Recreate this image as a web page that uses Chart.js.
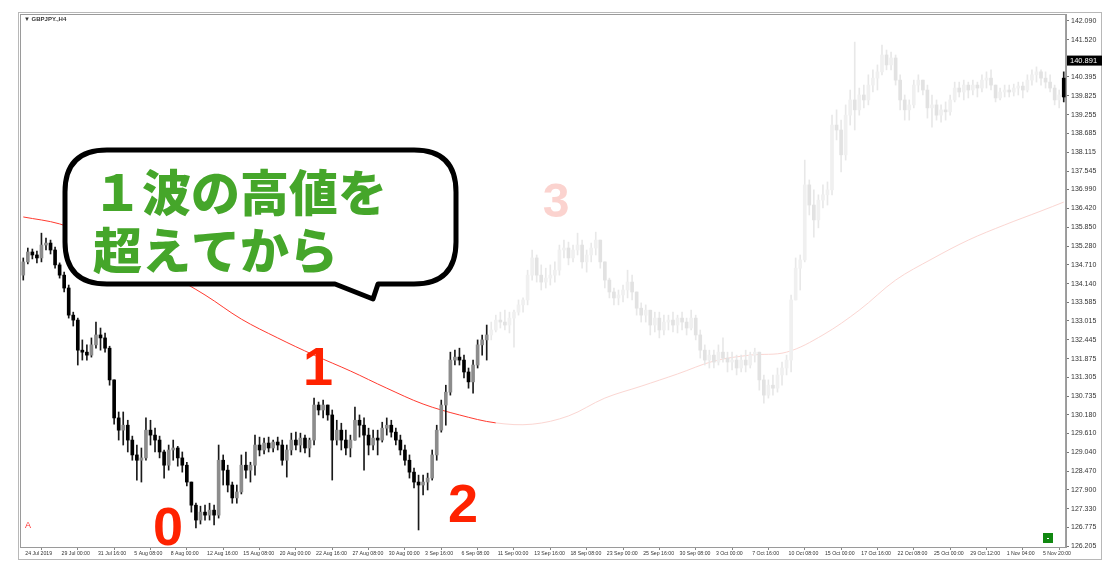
<!DOCTYPE html>
<html>
<head>
<meta charset="utf-8">
<script src="https://cdn.jsdelivr.net/npm/chart.js@4.4.1/dist/chart.umd.min.js"></script>
<style>
    html, body { margin: 0; padding: 0; background: #fff; overflow: hidden; }
    #wrap { position: relative; width: 1111px; height: 577px; }
</style>
</head>
<body>
<div id="wrap"><canvas id="chart" width="1111" height="577"></canvas></div>
<script>
// GBPJPY H4 (one bar here = 8 hours)

const xTickLabels = ['24 Jul 2019', '29 Jul 00:00', '31 Jul 16:00', '5 Aug 08:00', '8 Aug 00:00', '12 Aug 16:00',
    '15 Aug 08:00', '20 Aug 00:00', '22 Aug 16:00', '27 Aug 08:00', '30 Aug 00:00', '3 Sep 16:00', '6 Sep 08:00',
    '11 Sep 00:00', '13 Sep 16:00', '18 Sep 08:00', '23 Sep 00:00', '25 Sep 16:00', '30 Sep 08:00', '3 Oct 00:00',
    '7 Oct 16:00', '10 Oct 08:00', '15 Oct 00:00', '17 Oct 16:00', '22 Oct 08:00', '25 Oct 00:00', '29 Oct 12:00',
    '1 Nov 04:00', '5 Nov 20:00'];

const yTickValues = [142.090, 141.520, 140.395, 139.825, 139.255, 138.685, 138.115, 137.545, 136.990, 136.420,
    135.850, 135.280, 134.710, 134.140, 133.585, 133.015, 132.445, 131.875, 131.305, 130.735, 130.180, 129.610,
    129.040, 128.470, 127.900, 127.330, 126.775, 126.205];

const opens = [
    134.40, 134.80, 135.10, 135.01, 134.92, 135.31, 135.37, 135.16, 134.71, 134.40,
    134.01, 133.19, 133.04, 132.13, 132.07, 131.98, 132.29, 132.59, 132.50, 132.19,
    131.23, 130.08, 129.71, 129.86, 129.41, 128.96, 128.80, 128.87, 129.71, 129.56,
    129.41, 129.05, 128.65, 129.11, 129.17, 128.87, 128.65, 128.14, 127.44, 126.99,
    127.23, 127.14, 127.29, 127.14, 128.80, 128.50, 128.05, 127.66, 127.84, 128.65,
    128.50, 128.65, 129.26, 129.11, 129.32, 129.17, 129.35, 129.26, 128.80, 129.11,
    129.41, 129.26, 129.47, 129.17, 129.41, 130.47, 130.32, 130.47, 130.17, 129.41,
    129.71, 129.41, 129.17, 129.41, 130.01, 129.86, 129.56, 129.26, 129.47, 129.41,
    129.77, 129.86, 129.65, 129.41, 129.11, 128.80, 128.44, 128.14, 128.05, 128.14,
    128.26, 128.96, 129.71, 130.47, 130.86, 131.83, 131.92, 131.83, 131.47, 131.17,
    131.68, 132.29, 132.44, 132.59, 132.74, 133.04, 132.98, 132.89, 133.10, 133.28,
    133.50, 133.65, 134.40, 134.92, 134.40, 134.19, 134.31, 134.40, 134.55, 135.16,
    135.22, 134.92, 135.16, 135.31, 134.80, 135.01, 135.22, 135.46, 134.80, 134.25,
    133.89, 133.71, 133.80, 133.95, 134.19, 133.89, 133.40, 133.19, 133.34, 132.89,
    133.10, 132.74, 132.98, 133.04, 132.89, 133.10, 132.98, 132.80, 133.10, 132.59,
    132.13, 131.83, 131.98, 131.77, 132.07, 131.89, 131.77, 131.83, 131.59, 131.83,
    131.68, 131.98, 132.07, 131.23, 130.77, 131.07, 130.98, 131.38, 131.59, 131.83,
    133.65, 134.61, 134.86, 137.13, 136.52, 136.07, 136.67, 136.83, 136.98, 138.94,
    138.79, 138.04, 139.24, 139.70, 139.40, 139.85, 139.70, 140.15, 140.36, 140.55,
    141.06, 140.76, 140.97, 140.30, 139.70, 139.40, 139.55, 140.15, 140.30, 140.00,
    139.46, 139.55, 139.24, 139.40, 139.34, 139.70, 140.06, 139.94, 140.15, 140.00,
    140.15, 140.06, 140.30, 140.36, 140.15, 139.76, 139.94, 140.00, 139.94, 140.06,
    140.12, 140.00, 140.30, 140.46, 140.55, 140.36, 140.24, 140.06, 139.70, 140.36
];
const highs = [
    134.92, 135.22, 135.19, 135.13, 135.67, 135.52, 135.46, 135.25, 134.77, 134.49,
    134.10, 133.28, 133.10, 132.44, 132.29, 132.50, 132.98, 132.80, 132.65, 132.25,
    131.23, 130.26, 130.26, 130.01, 129.53, 129.26, 129.17, 130.08, 130.01, 129.77,
    129.53, 129.11, 129.26, 129.41, 129.22, 129.05, 128.74, 128.14, 127.50, 127.41,
    127.44, 127.50, 127.44, 129.26, 128.96, 128.65, 128.14, 128.05, 128.96, 129.05,
    128.74, 129.56, 129.50, 129.47, 129.50, 129.41, 129.50, 129.41, 129.26, 129.62,
    129.65, 129.62, 129.56, 129.47, 130.68, 130.56, 130.62, 130.47, 130.32, 130.01,
    129.92, 129.71, 129.56, 130.41, 130.17, 130.08, 129.77, 129.71, 129.71, 129.95,
    130.08, 130.01, 129.77, 129.56, 129.26, 128.96, 128.56, 128.35, 128.35, 128.41,
    129.11, 129.86, 130.62, 131.07, 132.07, 132.13, 132.19, 131.98, 131.59, 131.83,
    132.44, 132.59, 132.89, 132.98, 133.19, 133.28, 133.34, 133.28, 133.34, 133.65,
    133.71, 134.55, 135.16, 135.01, 134.71, 134.61, 134.71, 134.80, 135.31, 135.46,
    135.40, 135.31, 135.67, 135.46, 135.16, 135.37, 135.70, 135.46, 134.80, 134.31,
    134.01, 133.95, 134.10, 134.55, 134.40, 133.89, 133.56, 133.50, 133.34, 133.28,
    133.28, 133.19, 133.19, 133.28, 133.19, 133.28, 133.10, 133.34, 133.19, 132.74,
    132.29, 132.13, 132.13, 132.29, 132.50, 132.07, 132.07, 131.98, 131.98, 132.13,
    132.07, 132.19, 132.07, 131.38, 131.23, 131.38, 131.59, 131.77, 131.98, 133.80,
    134.92, 135.01, 137.88, 137.28, 136.98, 136.83, 137.13, 137.22, 139.24, 139.40,
    139.09, 139.55, 140.00, 141.45, 140.06, 140.15, 140.46, 140.61, 140.76, 141.36,
    141.21, 141.15, 141.06, 140.46, 139.85, 139.70, 140.30, 140.46, 140.30, 140.15,
    139.85, 139.70, 139.55, 139.64, 139.85, 140.24, 140.24, 140.30, 140.24, 140.30,
    140.24, 140.46, 140.55, 140.61, 140.15, 140.06, 140.15, 140.15, 140.18, 140.24,
    140.24, 140.46, 140.61, 140.70, 140.61, 140.55, 140.46, 140.15, 140.00, 140.55
];
const lows = [
    134.25, 134.74, 134.89, 134.77, 134.80, 135.16, 135.04, 134.61, 134.31, 133.89,
    133.10, 132.86, 131.68, 131.83, 131.83, 131.92, 132.19, 132.13, 132.07, 131.07,
    129.89, 129.41, 129.26, 129.05, 128.80, 128.20, 128.14, 128.80, 129.26, 129.05,
    128.87, 128.26, 128.50, 128.80, 128.62, 128.44, 128.02, 127.23, 126.75, 126.87,
    126.99, 126.99, 126.84, 127.05, 128.05, 127.84, 127.50, 127.50, 127.78, 128.26,
    128.14, 128.35, 128.93, 128.99, 129.05, 129.05, 129.11, 128.65, 128.29, 128.96,
    129.11, 129.05, 129.02, 128.90, 129.26, 130.17, 130.08, 130.01, 128.20, 129.26,
    129.11, 128.96, 128.90, 129.41, 129.50, 128.50, 128.96, 129.11, 128.96, 129.35,
    129.56, 129.50, 129.26, 128.96, 128.65, 128.26, 127.96, 126.69, 127.75, 127.90,
    128.20, 128.80, 129.65, 129.86, 130.77, 131.68, 131.68, 131.29, 130.98, 130.83,
    131.59, 131.98, 131.83, 132.44, 132.68, 132.80, 132.74, 132.65, 132.22, 133.19,
    133.28, 133.50, 134.25, 134.19, 133.95, 134.01, 134.10, 134.19, 134.40, 134.92,
    134.71, 134.80, 135.01, 134.61, 134.49, 134.80, 135.01, 134.61, 134.01, 133.71,
    133.50, 133.50, 133.59, 133.71, 133.65, 133.19, 132.98, 132.98, 132.59, 132.68,
    132.50, 132.59, 132.74, 132.68, 132.65, 132.74, 132.59, 132.74, 132.44, 131.89,
    131.68, 131.59, 131.59, 131.68, 131.77, 131.47, 131.53, 131.38, 131.47, 131.47,
    131.59, 131.77, 130.92, 130.53, 130.68, 130.77, 130.86, 131.07, 131.38, 131.47,
    133.65, 133.95, 134.80, 136.22, 135.55, 135.83, 136.43, 136.52, 136.83, 138.49,
    137.52, 137.88, 138.94, 138.79, 139.24, 139.46, 139.55, 139.94, 140.00, 140.46,
    140.61, 140.61, 140.15, 139.40, 139.09, 139.09, 139.46, 139.94, 139.85, 139.15,
    138.88, 139.09, 139.03, 139.09, 139.24, 139.64, 139.79, 139.70, 139.76, 139.85,
    139.79, 139.94, 140.06, 140.00, 139.64, 139.70, 139.79, 139.79, 139.82, 139.85,
    139.76, 139.94, 140.15, 140.24, 140.15, 140.06, 139.94, 139.55, 139.46, 139.64
];
const closes = [
    134.80, 135.10, 135.01, 134.92, 135.31, 135.37, 135.16, 134.71, 134.40, 134.01,
    133.19, 133.04, 132.13, 132.07, 131.98, 132.29, 132.59, 132.50, 132.19, 131.23,
    130.08, 129.71, 129.86, 129.41, 128.96, 128.80, 128.87, 129.71, 129.56, 129.41,
    129.05, 128.65, 129.11, 129.17, 128.87, 128.65, 128.14, 127.44, 126.99, 127.23,
    127.14, 127.29, 127.14, 128.80, 128.50, 128.05, 127.66, 127.84, 128.65, 128.50,
    128.65, 129.26, 129.11, 129.32, 129.17, 129.35, 129.26, 128.80, 129.11, 129.41,
    129.26, 129.47, 129.17, 129.41, 130.47, 130.32, 130.47, 130.17, 129.41, 129.71,
    129.41, 129.17, 129.41, 130.01, 129.86, 129.56, 129.26, 129.47, 129.41, 129.77,
    129.86, 129.65, 129.41, 129.11, 128.80, 128.44, 128.14, 128.05, 128.14, 128.26,
    128.96, 129.71, 130.47, 130.86, 131.83, 131.92, 131.83, 131.47, 131.17, 131.68,
    132.29, 132.44, 132.59, 132.74, 133.04, 132.98, 132.89, 133.10, 133.28, 133.50,
    133.65, 134.40, 134.92, 134.40, 134.19, 134.31, 134.40, 134.55, 135.16, 135.22,
    134.92, 135.16, 135.31, 134.80, 135.01, 135.22, 135.46, 134.80, 134.25, 133.89,
    133.71, 133.80, 133.95, 134.19, 133.89, 133.40, 133.19, 133.34, 132.89, 133.10,
    132.74, 132.98, 133.04, 132.89, 133.10, 132.98, 132.80, 133.10, 132.59, 132.13,
    131.83, 131.98, 131.77, 132.07, 131.89, 131.77, 131.83, 131.59, 131.83, 131.68,
    131.98, 132.07, 131.23, 130.77, 131.07, 130.98, 131.38, 131.59, 131.83, 133.65,
    134.61, 134.86, 137.13, 136.52, 136.07, 136.67, 136.83, 136.98, 138.94, 138.79,
    138.04, 139.24, 139.70, 139.40, 139.85, 139.70, 140.15, 140.36, 140.55, 141.06,
    140.76, 140.97, 140.30, 139.70, 139.40, 139.55, 140.15, 140.30, 140.00, 139.46,
    139.55, 139.24, 139.40, 139.34, 139.70, 140.06, 139.94, 140.15, 140.00, 140.15,
    140.06, 140.30, 140.36, 140.15, 139.76, 139.94, 140.00, 139.94, 140.06, 140.12,
    140.00, 140.30, 140.46, 140.55, 140.36, 140.24, 140.06, 139.70, 139.85, 139.79
];

// moving average, one reading per x-axis label (every 8 bars) plus the last bar
const maValues = [136.16, 135.95, 135.52, 134.98, 134.43, 133.80, 133.07, 132.50, 131.98, 131.50,
    130.98, 130.50, 130.17, 129.93, 129.89, 130.14, 130.68, 131.04, 131.41, 131.80,
    131.98, 132.07, 132.59, 133.34, 134.25, 134.89, 135.46, 135.92, 136.34, 136.61];

const currentPrice = 140.891;
const lastSolidBar = 102;   // bars after this are drawn faded, except the last one

const labels = opens.map((_, i) => i % 8 === 0 ? xTickLabels[i / 8] : '');
const maData = opens.map(() => null);
maValues.forEach((v, k) => { maData[Math.min(k * 8, opens.length - 1)] = v; });

const isSolid = i => i <= lastSolidBar || i === opens.length - 1;
const wickColors = opens.map((_, i) => isSolid(i) ? '#1a1a1a' : '#e8e8e8');
const bodyColors = opens.map((o, i) => {
    const up = closes[i] >= o;
    if (isSolid(i)) return up ? '#8c8c8c' : '#000000';
    return up ? '#f0f0f0' : '#e2e2e2';
});

// Annotations: frame, bubble, wave numbers, price box
const overlayPlugin = {
    id: 'overlay',
    beforeDraw(chart) {
        const ctx = chart.ctx;
        ctx.save();
        ctx.fillStyle = '#ffffff';
        ctx.fillRect(0, 0, chart.width, chart.height);
        ctx.restore();
    },
    afterDraw(chart) {
        const ctx = chart.ctx;
        const a = chart.chartArea;
        const y = chart.scales.y;
        ctx.save();

        // frame
        ctx.strokeStyle = '#9a9a9a';
        ctx.lineWidth = 1;
        ctx.strokeRect(a.left - 0.5, a.top - 0.5, a.right - a.left + 1, a.bottom - a.top + 1);
        ctx.strokeStyle = '#b8b8b8';
        ctx.strokeRect(18.5, 12.5, 1083, 547);

        // symbol caption
        ctx.fillStyle = '#333';
        ctx.font = 'bold 6px "Liberation Sans", Arial, sans-serif';
        ctx.textBaseline = 'middle';
        ctx.fillText('\u25BC GBPJPY.,H4', a.left + 3, a.top + 4);

        // speech bubble
        const bx = 65, by = 150, bw = 391, bh = 134, r = 42;
        ctx.beginPath();
        ctx.moveTo(bx + r, by);
        ctx.lineTo(bx + bw - r, by);
        ctx.quadraticCurveTo(bx + bw, by, bx + bw, by + r);
        ctx.lineTo(bx + bw, by + bh - r);
        ctx.quadraticCurveTo(bx + bw, by + bh, bx + bw - r, by + bh);
        ctx.lineTo(378, by + bh);
        ctx.lineTo(373, by + bh + 15);
        ctx.lineTo(335, by + bh);
        ctx.lineTo(bx + r, by + bh);
        ctx.quadraticCurveTo(bx, by + bh, bx, by + bh - r);
        ctx.lineTo(bx, by + r);
        ctx.quadraticCurveTo(bx, by, bx + r, by);
        ctx.closePath();
        ctx.fillStyle = '#ffffff';
        ctx.fill();
        ctx.lineWidth = 5;
        ctx.lineJoin = 'round';
        ctx.strokeStyle = '#000000';
        ctx.stroke();

        ctx.fillStyle = '#45a62a';
        ctx.font = '900 49px "Noto Sans CJK JP", sans-serif';
        ctx.textAlign = 'left';
        ctx.textBaseline = 'alphabetic';
        ctx.fillText('１波の高値を', 93, 211);
        ctx.fillText('超えてから', 93, 269);

        // wave numbers
        ctx.font = 'bold 54px "Liberation Sans", Arial, sans-serif';
        ctx.textAlign = 'center';
        ctx.fillStyle = '#ff2200';
        ctx.fillText('0', 168, 545);
        ctx.fillText('1', 318, 385);
        ctx.fillText('2', 463, 522);
        ctx.fillStyle = '#fbd3cf';
        ctx.font = 'bold 48px "Liberation Sans", Arial, sans-serif';
        ctx.fillText('3', 556, 217);

        // alert marker
        ctx.fillStyle = '#ff3030';
        ctx.font = '9px "Liberation Sans", Arial, sans-serif';
        ctx.fillText('A', 28, 528);

        // green corner button
        ctx.fillStyle = '#118811';
        ctx.fillRect(1043, 533, 10, 10);
        ctx.fillStyle = '#ffffff';
        ctx.fillRect(1047, 538, 2, 1);

        // current price box
        const py = y.getPixelForValue(currentPrice);
        ctx.fillStyle = '#000000';
        ctx.fillRect(a.right + 1, py - 5, 35, 10);
        ctx.fillStyle = '#ffffff';
        ctx.font = '7.5px "Liberation Sans", Arial, sans-serif';
        ctx.textAlign = 'left';
        ctx.textBaseline = 'middle';
        ctx.fillText(currentPrice.toFixed(3), a.right + 4, py + 0.5);

        ctx.restore();
    }
};

const chart = new Chart(document.getElementById('chart').getContext('2d'), {
    data: {
        labels: labels,
        datasets: [
            {
                type: 'line',
                data: maData,
                spanGaps: true,
                borderWidth: 1,
                pointRadius: 0,
                tension: 0.35,
                segment: {
                    borderColor: ctx => ctx.p0DataIndex < 104 ? '#ff3b30' : '#fbd6d2'
                },
                order: 3
            },
            {
                type: 'bar',
                data: lows.map((l, i) => [l, highs[i]]),
                backgroundColor: wickColors,
                barThickness: 1,
                grouped: false,
                order: 2
            },
            {
                type: 'bar',
                data: opens.map((o, i) => [o, closes[i]]),
                backgroundColor: bodyColors,
                barThickness: 3,
                minBarLength: 1,
                grouped: false,
                order: 1
            }
        ]
    },
    options: {
        responsive: false,
        animation: false,
        layout: { padding: { left: 21, top: 15, right: 0, bottom: 0 } },
        plugins: {
            legend: { display: false },
            tooltip: { enabled: false }
        },
        scales: {
            x: {
                type: 'category',
                offset: true,
                afterBuildTicks: scale => {
                    scale.ticks = scale.ticks.filter(t => t.value % 8 === 0);
                },
                afterFit: scale => { scale.height = 30; },
                grid: { display: true, drawOnChartArea: false, drawTicks: true, tickLength: 3, color: '#888', lineWidth: 1 },
                border: { display: true, color: '#9a9a9a', width: 1 },
                ticks: {
                    autoSkip: false,
                    maxRotation: 0,
                    align: 'start',
                    labelOffset: 2,
                    padding: 0,
                    color: '#333',
                    font: { family: '"Liberation Sans", Arial, sans-serif', size: 5.2 },
                    callback: function (value) { return this.getLabelForValue(value); }
                }
            },
            y: {
                position: 'right',
                min: 126.175,
                max: 142.27,
                afterBuildTicks: scale => {
                    scale.ticks = yTickValues.map(v => ({ value: v }));
                },
                afterFit: scale => { scale.width = 45; },
                grid: { display: true, drawOnChartArea: false, drawTicks: true, tickLength: 3, color: '#777', lineWidth: 1 },
                border: { display: true, color: '#a0a0a0', width: 2 },
                ticks: {
                    padding: 2,
                    color: '#333',
                    font: { family: '"Liberation Sans", Arial, sans-serif', size: 7 },
                    callback: v => Number(v).toFixed(3)
                }
            }
        }
    },
    plugins: [overlayPlugin]
});
</script>
</body>
</html>
